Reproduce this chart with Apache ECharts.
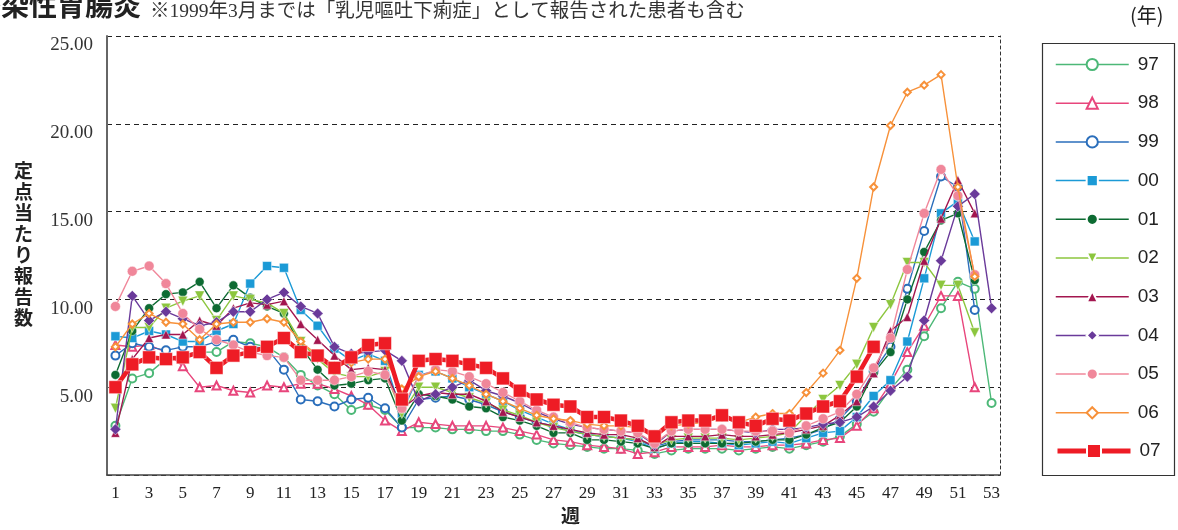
<!DOCTYPE html>
<html><head><meta charset="utf-8">
<script src="https://cdn.jsdelivr.net/npm/echarts@6/dist/echarts.min.js"></script>
<style>html,body{margin:0;padding:0;background:#fff}#c{width:1178px;height:530px}</style>
</head><body><div id="c"></div>
<script>
const weeks = ['1','2','3','4','5','6','7','8','9','10','11','12','13','14','15','16','17','18','19','20','21','22','23','24','25','26','27','28','29','30','31','32','33','34','35','36','37','38','39','40','41','42','43','44','45','46','47','48','49','50','51','52','53'];
const yTicks = [0, 5, 10, 15, 20, 25];

const y97 = [2.8,5.5,5.8,6.6,6.8,7.0,7.0,7.6,7.5,7.3, 6.7,5.7,5.1,4.6,3.7,4.0,3.7,2.7,2.7,2.7, 2.6,2.6,2.5,2.5,2.3,2.0,1.8,1.7,1.6,1.5, 1.5,1.4,1.2,1.4,1.5,1.5,1.5,1.4,1.5,1.6, 1.5,1.7,1.9,2.2,2.9,3.6,4.9,6.0,7.9,9.5, 11.0,10.6,4.1];
const y98 = [7.4,7.3,7.4,7.0,6.2,5.0,5.1,4.8,4.7,5.1, 5.0,5.2,5.2,4.9,4.5,4.0,3.1,2.5,3.0,2.9, 2.8,2.8,2.8,2.7,2.5,2.3,2.0,1.9,1.7,1.6, 1.5,1.2,1.3,1.6,1.6,1.6,1.7,1.6,1.6,1.7, 1.7,1.8,2.0,2.1,2.8,3.8,5.2,7.0,8.5,10.2, 10.2,5.0];
const y99 = [6.8,7.5,7.3,7.1,7.3,7.3,7.6,7.7,7.3,7.2, 6.0,4.3,4.2,3.9,4.3,4.4,3.8,2.7,4.3,4.4, 4.5,4.3,4.0,3.6,3.3,3.0,2.8,2.5,2.3,2.2, 2.1,2.0,1.6,1.9,2.0,2.0,2.0,1.9,1.9,2.0, 2.1,2.3,2.6,3.2,4.2,5.9,7.3,10.6,13.9,17.0, 16.4,9.4];
const y00 = [7.9,7.8,8.2,8.0,7.6,7.6,8.2,8.6,10.9,11.9, 11.8,9.4,8.5,7.2,6.5,6.9,6.5,3.5,5.7,5.9, 5.5,5.0,4.6,4.2,3.7,3.3,2.9,2.6,2.3,2.2, 2.1,1.9,1.5,1.8,1.9,1.9,1.8,1.7,1.8,1.9, 1.8,2.1,2.4,2.5,3.3,4.5,5.4,7.6,11.2,14.9, 15.6,13.3];
const y01 = [5.7,8.2,9.5,10.3,10.4,11.0,9.5,10.8,10.1,9.6, 9.2,7.3,6.0,5.1,5.2,5.4,5.5,3.1,4.6,4.5, 4.3,3.9,3.8,3.3,3.1,2.8,2.4,2.4,2.0,2.0, 1.9,1.8,1.5,1.8,1.8,1.8,1.8,1.8,1.9,2.0, 2.0,2.3,2.7,3.0,3.9,5.8,7.0,10.0,12.7,14.5, 14.9,11.1];
const y02 = [3.8,8.4,8.4,9.5,9.9,10.2,8.8,10.2,10.0,9.8, 9.2,7.6,6.6,5.8,5.6,5.6,5.9,3.5,5.0,5.0, 4.7,4.4,4.1,3.7,3.4,3.0,2.7,2.5,2.3,2.2, 2.1,2.0,1.7,2.0,2.1,2.1,2.1,2.0,2.1,2.2, 2.4,3.4,4.3,5.1,6.3,8.4,9.7,12.1,12.1,10.8, 10.8,8.1];
const y03 = [2.4,6.6,7.8,8.0,8.0,8.8,8.5,9.5,9.8,9.7, 9.9,8.6,7.7,6.8,6.0,6.1,6.0,3.8,4.5,4.7, 4.6,4.6,4.2,3.6,3.3,3.0,2.8,2.6,2.4,2.3, 2.3,2.1,1.6,2.2,2.2,2.2,2.3,2.2,2.2,2.3, 2.4,2.6,2.8,3.4,4.2,5.8,8.2,9.0,12.2,14.6, 16.8,14.9];
const y04 = [2.6,10.2,8.8,9.3,8.9,8.5,8.7,9.3,9.3,10.0, 10.4,9.6,9.2,7.3,6.9,7.0,7.1,6.5,4.2,4.6, 5.0,5.4,4.8,4.5,4.1,3.6,3.2,2.9,2.7,2.6, 2.5,2.4,1.7,2.5,2.6,2.6,2.6,2.5,2.4,2.6, 2.6,2.7,2.9,3.0,3.3,3.9,4.8,5.6,8.8,12.2, 15.3,16.0,9.5];
const y05 = [9.6,11.6,11.9,10.9,9.2,8.3,7.7,7.4,7.0,6.8, 6.7,5.4,5.4,5.4,5.6,5.9,5.7,3.8,5.6,6.0, 5.9,5.6,5.2,4.7,4.2,3.7,3.3,3.0,2.7,2.6, 2.5,2.4,1.8,2.5,2.6,2.6,2.6,2.5,2.5,2.5, 2.4,2.8,3.2,3.6,4.6,6.1,7.8,11.7,14.9,17.4, 15.9,11.4];
const y06 = [7.3,8.6,9.2,8.7,8.6,7.7,8.6,8.7,8.7,8.9, 8.7,7.6,6.8,6.2,6.4,6.6,6.6,4.9,5.6,5.9, 5.5,5.1,4.6,4.2,3.8,3.4,3.2,3.1,2.9,2.8, 2.8,2.7,2.3,2.8,2.9,3.0,3.3,3.0,3.3,3.5, 3.5,4.7,5.8,7.1,11.2,16.4,19.9,21.8,22.2,22.8, 16.4,11.3];
const y07 = [5.0,6.3,6.7,6.6,6.7,7.0,6.1,6.8,7.0,7.3, 7.8,7.0,6.8,6.1,6.7,7.4,7.5,4.3,6.5,6.6, 6.5,6.3,6.1,5.5,4.8,4.3,4.0,3.9,3.3,3.3, 3.1,2.8,2.2,3.0,3.1,3.1,3.4,3.0,2.8,3.2, 3.1,3.5,3.9,4.2,5.6,7.3];

const seriesNames = ['97','98','99','00','01','02','03','04','05','06','07'];
const seriesData = [y97,y98,y99,y00,y01,y02,y03,y04,y05,y06,y07];
const colors = ['#4cb877','#e8467c','#2a6ebb','#1b9ad6','#0d6b32','#8cc63e','#a3164f','#6a3a9a','#f0879a','#f7913a','#ee1c25'];
const symbols = ['emptyCircle','emptyTriangle','emptyCircle','rect','circle','triangle','triangle','diamond','circle','emptyDiamond','rect'];
const rotations = [0,0,0,0,0,180,0,0,0,0,0];
const sizes = [8,8,8,9,9,10,9,11,10,7,13];
const widths = [1.4,1.4,1.4,1.4,1.4,1.4,1.4,1.4,1.4,1.4,4.5];

const series = seriesNames.map((n, i) => ({
  name: n, type: 'line', data: seriesData[i],
  symbol: symbols[i], symbolSize: sizes[i], symbolRotate: rotations[i],
  showAllSymbol: true,
  lineStyle: { color: colors[i], width: widths[i] },
  itemStyle: symbols[i].startsWith('empty')
    ? { color: colors[i], borderWidth: 1.4 }
    : { color: colors[i], borderColor: '#fff', borderWidth: 0.5 },
  emphasis: { disabled: true },
  z: 2 + i
}));

const legendCommon = {
  orient: 'vertical', left: 1040, padding: [0, 0, 0, 15],
  itemWidth: 73,
  lineStyle: { width: 1.5 },
  textStyle: { fontFamily: 'Liberation Sans', fontSize: 19, lineHeight: 19, color: '#222', padding: [0,0,0,4] },
  selectedMode: false
};

const chart = echarts.init(document.getElementById('c'));
chart.setOption({
  animation: false,
  backgroundColor: '#fff',
  grid: { left: 107, right: 178, top: 36, bottom: 55 },
  xAxis: {
    type: 'category', data: weeks, boundaryGap: true,
    axisLine: { lineStyle: { color: '#444', width: 1.5 } },
    axisTick: { alignWithLabel: true, interval: 0, length: 8, lineStyle: { color: '#222' } },
    axisLabel: { interval: 1, margin: 10, color: '#222', fontFamily: 'Liberation Serif', fontSize: 17 }
  },
  yAxis: [{
    type: 'value', min: yTicks[0], max: yTicks[yTicks.length-1], interval: 5,
    axisLine: { show: true, lineStyle: { color: '#666', width: 2 } },
    axisTick: { show: false },
    axisLabel: { margin: 14, color: '#333', fontFamily: 'Liberation Serif', fontSize: 19,
      verticalAlign: 'top', lineHeight: 19,
      formatter: v => v === 0 ? '' : v.toFixed(2) },
    splitLine: { show: true, lineStyle: { color: '#222', type: [5,4], width: 1 } }
  }, {
    type: 'value', position: 'right', min: 0, max: 25, interval: 5,
    axisLine: { show: true, lineStyle: { color: '#333', type: [3,3], width: 1 } },
    axisTick: { show: false }, axisLabel: { show: false }, splitLine: { show: false }
  }],
  legend: [
    Object.assign({}, legendCommon, {
      top: 55, itemHeight: 14, itemGap: 19.7,
      data: seriesNames.slice(0, 10)
    }),
    Object.assign({}, legendCommon, {
      top: 441.5, itemHeight: 17.5, itemGap: 10,
      data: [{ name: '07', lineStyle: { width: 5 } }]
    })
  ],
  graphic: [
    { type: 'rect', left: 1040, top: 41, shape: { width: 132, height: 432 }, style: { fill: 'none', stroke: '#333', lineWidth: 1.2 } },
    { type: 'text', left: -27, top: -9, style: { text: '感染性胃腸炎', font: 'bold 28px "Noto Sans CJK JP"', fill: '#222' } },
    { type: 'text', left: 150, top: 2, style: { text: '※1999年3月までは「乳児嘔吐下痢症」として報告された患者も含む', font: '19.5px "Liberation Serif", "Noto Sans CJK JP"', fill: '#333' } },
    { type: 'text', left: 1130, top: 5, style: { text: '(年)', font: '20px "Noto Sans CJK JP"', fill: '#222' } },
    { type: 'text', left: 14, top: 160, style: { text: '定\n点\n当\nた\nり\n報\n告\n数', font: 'bold 19px "Noto Sans CJK JP"', lineHeight: 21, fill: '#222' } },
    { type: 'text', left: 561, top: 506, style: { text: '週', font: 'bold 19px "Noto Sans CJK JP"', fill: '#222' } }
  ],
  series: series
});
</script></body></html>
